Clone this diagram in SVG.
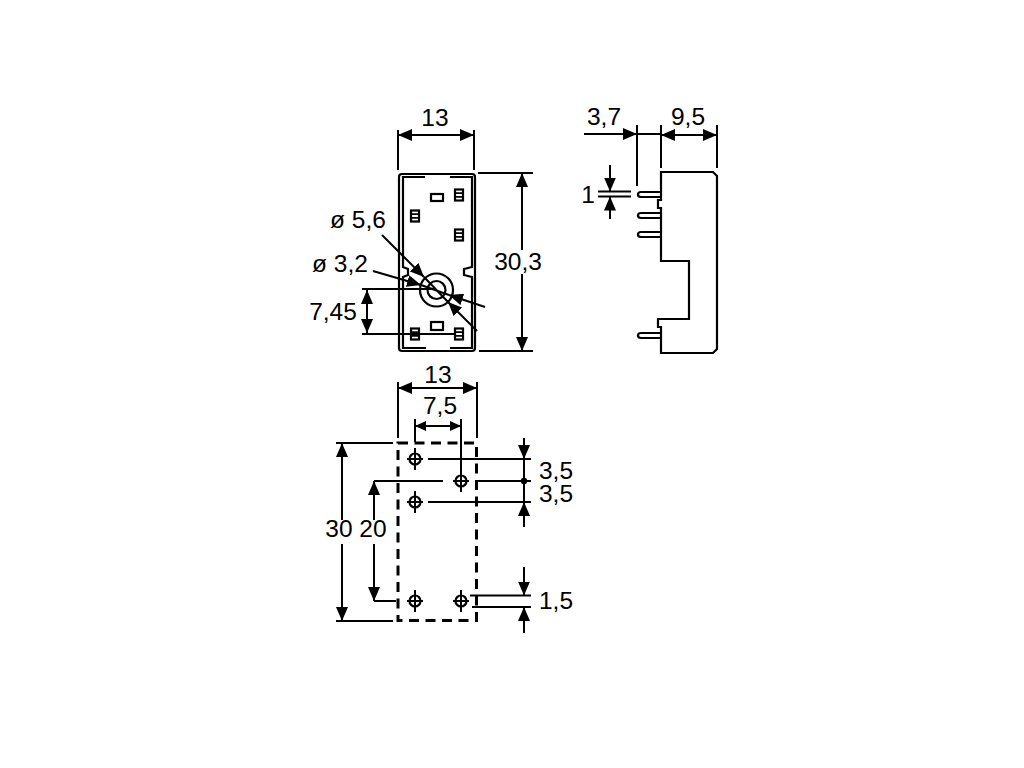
<svg xmlns="http://www.w3.org/2000/svg" width="1024" height="768" viewBox="0 0 1024 768">
<defs>
<marker id="a" viewBox="0 0 14 12" refX="14" refY="6" markerWidth="14" markerHeight="12" markerUnits="userSpaceOnUse" orient="auto-start-reverse"><path d="M0 0L14 6L0 12Z" fill="#000"/></marker>
<marker id="s" viewBox="0 0 11 10" refX="11" refY="5" markerWidth="11" markerHeight="10" markerUnits="userSpaceOnUse" orient="auto-start-reverse"><path d="M0 0L11 5L0 10Z" fill="#000"/></marker>
<g id="pad"><rect x="-4" y="-5.500" width="8" height="11" fill="#fff" stroke="#000" stroke-width="2.200"/><path d="M-4-1.800H4M-4 1.800H4" stroke="#000" stroke-width="1.800"/></g>
<g id="hole"><circle r="5.500" fill="none" stroke="#000" stroke-width="2.200"/><path d="M-8 0H8M0-11V11" stroke="#000" stroke-width="2"/></g>
</defs>
<style>
text{font-family:"Liberation Sans",Arial,sans-serif;font-size:24.500px;fill:#000;text-anchor:middle}
.l{fill:none;stroke:#000;stroke-width:2.200}
.d{fill:none;stroke:#000;stroke-width:2}
.ar{marker-end:url(#a);marker-start:url(#a)}
.e{marker-end:url(#a)}
</style>
<rect width="1024" height="768" fill="#fff"/>

<g id="front-view">
<rect class="l" x="399" y="174" width="76" height="177" rx="3"/>
<path class="l" d="M425 177H403V267L408 269V275L403 277V348H426M450 348H472V277L464 275V269L472 267V177H450"/>
<rect class="l" x="431" y="194" width="12" height="7"/>
<rect class="l" x="431" y="322" width="12" height="8"/>
<use href="#pad" x="459" y="195"/>
<use href="#pad" x="415" y="216"/>
<use href="#pad" x="459" y="235"/>
<use href="#pad" x="415" y="334"/>
<use href="#pad" x="459" y="334"/>
<circle class="l" cx="436.500" cy="290" r="16.500"/>
<circle class="l" cx="436.500" cy="290" r="9"/>
</g>

<g id="side-view">
<path class="l" d="M661 172H713L717 176V349L713 353H661V327H658V319H689V261H661V208H658V200H661Z"/>
<path class="l" d="M661 192H641Q638 192 638 194.500Q638 197 641 197H661"/>
<path class="l" d="M661 213H641Q638 213 638 215.500Q638 218 641 218H661"/>
<path class="l" d="M661 232H641Q638 232 638 234.500Q638 237 641 237H661"/>
<path class="l" d="M661 333H641Q638 333 638 335.500Q638 338 641 338H661"/>
</g>

<g id="mount-view">
<rect x="398" y="443" width="78.500" height="177.500" fill="none" stroke="#000" stroke-width="3" stroke-dasharray="10 6.500"/>
<use href="#hole" x="415" y="459"/>
<use href="#hole" x="461" y="481"/>
<use href="#hole" x="415" y="502"/>
<use href="#hole" x="415" y="601"/>
<use href="#hole" x="461" y="601"/>
</g>

<g id="connectors">
<path class="d" d="M398 130V170M474 130V170"/>
<path class="d ar" d="M398 135H474"/>
<path class="d" d="M478 173H533M479 351H533"/>
<path class="d e" d="M522 250V173"/>
<path class="d e" d="M522 274V351"/>
<path class="d" d="M362 289H436M362 334H455"/>
<path class="d ar" d="M367 290V333"/>
<path class="d e" d="M382 235L424 277"/>
<path class="d e" d="M373 271L421 285"/>
<path class="d e" d="M485 307L449 295"/>
<path class="d e" d="M477 331L448 302"/>
<path class="d" d="M424 277L448 302M421 285L449 295"/>
<path class="d" d="M637 125V186M661 125V168M717 125V168"/>
<path class="d e" d="M584 134H637"/>
<path class="d" d="M637 134H661"/>
<path class="d ar" d="M661 135H717"/>
<path class="d" d="M598 191.500H631M598 196.500H631"/>
<path class="d e" d="M610 165V191.500"/>
<path class="d e" d="M610 219V196.500"/>
<path class="d" d="M398 382V438M477 382V438"/>
<path class="d ar" d="M398 388H477"/>
<path class="d" d="M415 419V442M461 419V470"/>
<path class="d" style="marker-start:url(#s);marker-end:url(#s)" d="M415 426H461"/>
<path class="d" d="M336 443H393M336 621H393"/>
<path class="d e" d="M342 520V443"/>
<path class="d e" d="M342 544V621"/>
<path class="d" d="M374 481H443M374 601H396M475 481H531"/>
<path class="d e" d="M374 520V481"/>
<path class="d e" d="M374 544V601"/>
<path class="d" d="M428 459H531M428 502H531"/>
<path class="d e" d="M524 438V459"/>
<path class="d" d="M524 459V502"/>
<circle cx="524" cy="481" r="3.200"/>
<path class="d e" d="M524 527V502"/>
<path class="d" d="M470 595.500H531M472 607H531"/>
<path class="d e" d="M524 567V595.500"/>
<path class="d e" d="M524 633V607"/>
</g>

<g id="labels">
<text x="435" y="126">13</text>
<text x="358" y="228">ø 5,6</text>
<text x="340" y="272">ø 3,2</text>
<text x="518" y="270">30,3</text>
<text x="333" y="320">7,45</text>
<text x="604" y="125">3,7</text>
<text x="688" y="125">9,5</text>
<text x="588" y="203">1</text>
<text x="438" y="383">13</text>
<text x="440" y="414">7,5</text>
<text x="339" y="537">30</text>
<text x="373" y="537">20</text>
<text x="556" y="479">3,5</text>
<text x="556" y="502">3,5</text>
<text x="556" y="609">1,5</text>
</g>
</svg>
